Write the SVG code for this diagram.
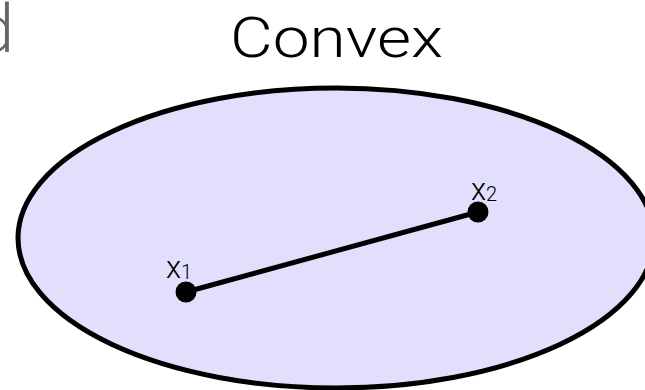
<svg xmlns="http://www.w3.org/2000/svg" width="645" height="390" viewBox="0 0 645 390">
<style>
.t{font-family:Roboto,"Liberation Sans",sans-serif;font-weight:300}
.lbl{font-family:Roboto,"Liberation Sans",sans-serif;font-weight:300;font-size:31px;fill:#000}
.pt{fill:#000}
</style>
<rect width="645" height="390" fill="#fff"/>
<text class="t" x="14" y="52" font-size="66" fill="#666" text-anchor="end">d</text>
<text class="t" x="230" y="57" font-size="55" fill="#000" textLength="213" lengthAdjust="spacingAndGlyphs">Convex</text>
<g id="region">
<ellipse cx="336" cy="238" rx="318" ry="150" fill="#e2dffd" stroke="#000" stroke-width="5"/>
</g>
<g id="connectors">
<line x1="186" y1="292" x2="478" y2="212" stroke="#000" stroke-width="5"/>
</g>
<g id="x1">
<circle class="pt" cx="186" cy="292" r="10.5"/>
<text class="lbl" x="166" y="278">x<tspan font-size="20" dy="1">1</tspan></text>
</g>
<g id="x2">
<circle class="pt" cx="478" cy="212" r="10.5"/>
<text class="lbl" x="471" y="200">x<tspan font-size="20" dy="1">2</tspan></text>
</g>
</svg>
